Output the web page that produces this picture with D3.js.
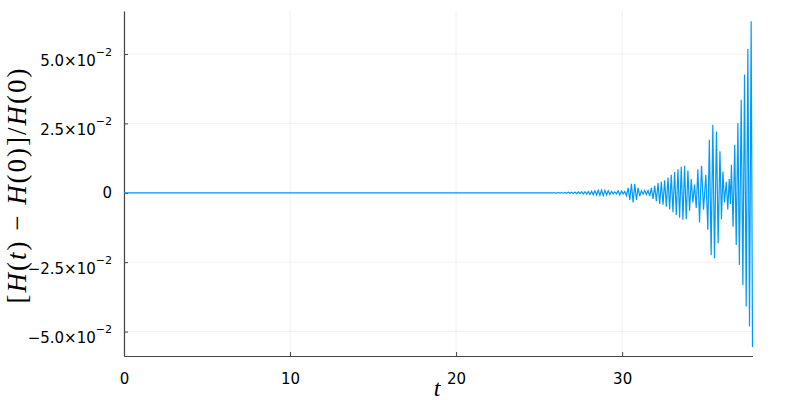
<!DOCTYPE html>
<html lang="en">
<head>
    <meta charset="utf-8" />
    <title>Energy error</title>
    <script src="https://cdn.jsdelivr.net/npm/d3@7"></script>
    <style>
      body { margin: 0; background: #fff; }
      text { font-family: "DejaVu Sans", sans-serif; fill: #000; }
    </style>
</head>
<body>
<div id="chart"></div>
<script type="text/javascript">

// time samples (turning points of the trace)
var times = [0, 25.96,
  26.06, 26.16, 26.26, 26.36, 26.46, 26.56, 26.66, 26.76, 26.86, 26.96,
  27.06, 27.16, 27.26, 27.36, 27.46, 27.56, 27.66, 27.76, 27.86, 27.96,
  28.06, 28.16, 28.26, 28.36, 28.46, 28.56, 28.66, 28.76, 28.86, 28.96,
  29.06, 29.16, 29.26, 29.36, 29.46, 29.56, 29.66, 29.76, 29.86, 29.96,
  30.06, 30.16, 30.26, 30.36, 30.46, 30.56, 30.66, 30.76, 30.86, 30.96,
  31.06, 31.16, 31.26, 31.36, 31.46, 31.56, 31.66, 31.76, 31.86, 31.96,
  32.06, 32.16, 32.26, 32.36, 32.46, 32.56, 32.66, 32.76, 32.86, 32.96,
  33.06, 33.16, 33.26, 33.36, 33.46, 33.56, 33.66, 33.76, 33.86, 33.96,
  34.06, 34.16, 34.26, 34.36, 34.46, 34.56,
  34.66, 34.78, 34.90, 35.04, 35.16, 35.25, 35.36, 35.46, 35.56, 35.68,
  35.78, 35.89, 35.98, 36.07, 36.16, 36.27, 36.36, 36.45, 36.52, 36.58,
  36.68, 36.78, 36.87, 36.97, 37.06, 37.17, 37.27, 37.37, 37.47, 37.57,
  37.67, 37.77, 37.85];

// relative energy error [H(t) - H(0)] / H(0)
var energyError = [0, 0,
  -0.0001, 0.0001, -0.0001, 0.0001, -0.00015, 0.00015, -0.00015, 0.0002, -0.0002, 0.0002,
  -0.00025, 0.00025, -0.0003, 0.0003, -0.0003, 0.0004, -0.0004, 0.0004, -0.0005, 0.0005,
  -0.0006, 0.0006, -0.0007, 0.0007, -0.0008, 0.0009, -0.0009, 0.001, -0.001, 0.0009,
  -0.0008, 0.0007, -0.0006, 0.0005, -0.0004, 0.0003, -0.0004, 0.0007, -0.0008, 0.0006,
  -0.0004, 0.0005, -0.001, 0.0018, -0.0026, 0.0032, -0.0035, 0.0032, -0.0026, 0.0018,
  -0.0012, 0.0007, -0.0005, 0.0008, -0.0006, 0.0008, -0.0012, 0.0018, -0.0022, 0.0025,
  -0.003, 0.0035, -0.004, 0.004, -0.0043, 0.0045, -0.005, 0.0055, -0.006, 0.0065,
  -0.007, 0.0075, -0.008, 0.0085, -0.009, 0.0095, -0.0097, 0.0097, -0.0095, 0.008,
  -0.0065, 0.005, -0.0035, 0.003, -0.0055, 0.0085,
  -0.0107, 0.0097, -0.0061, 0.0065, -0.0133, 0.0191, -0.0224, 0.0245, -0.0236, 0.0221,
  -0.0182, 0.015, -0.0095, 0.0077, -0.0035, 0.004, -0.006, 0.005, -0.004, 0.0101,
  -0.0122, 0.0173, -0.0188, 0.0251, -0.026, 0.0335, -0.0332, 0.0426, -0.041, 0.0518,
  -0.0482, 0.0618, -0.0556];

var xTicks = [0, 10, 20, 30];
var yTicks = [0.05, 0.025, 0, -0.025, -0.05];
var yTickMantissa = ["5.0", "2.5", "0", "\u22122.5", "\u22125.0"];
var yTickExponent = "\u22122";

var width = 800, height = 400;
var margin = { top: 11, right: 47.5, bottom: 44, left: 124 };

var svg = d3.select("#chart").append("svg")
    .attr("width", width)
    .attr("height", height);

var x = d3.scaleLinear()
    .domain([0, 37.85])
    .range([margin.left, width - margin.right]);

var y = d3.scaleLinear()
    .domain([-0.0588, 0.0655])
    .range([height - margin.bottom, margin.top]);

// grid
svg.append("g").selectAll("line")
    .data(xTicks)
    .enter().append("line")
    .attr("x1", d => x(d)).attr("x2", d => x(d))
    .attr("y1", margin.top).attr("y2", height - margin.bottom)
    .attr("stroke", "#000").attr("stroke-opacity", 0.06).attr("stroke-width", 1);

svg.append("g").selectAll("line")
    .data(yTicks)
    .enter().append("line")
    .attr("x1", margin.left).attr("x2", width - margin.right)
    .attr("y1", d => y(d)).attr("y2", d => y(d))
    .attr("stroke", "#000").attr("stroke-opacity", 0.06).attr("stroke-width", 1);

// x axis
var xAxis = svg.append("g")
    .attr("transform", "translate(0," + (height - margin.bottom) + ")")
    .call(d3.axisBottom(x).tickValues(xTicks).tickSize(-4).tickPadding(10).tickSizeOuter(0));

xAxis.select(".domain").attr("stroke", "#444").attr("stroke-width", 1.2);
xAxis.selectAll(".tick line").attr("stroke", "#444");
xAxis.selectAll(".tick text")
    .attr("font-family", "DejaVu Sans").attr("font-size", 15).attr("fill", "#000")
    .attr("dy", "1.2em");

// y axis
var yAxis = svg.append("g")
    .attr("transform", "translate(" + margin.left + ",0)")
    .call(d3.axisLeft(y).tickValues(yTicks).tickSize(-4).tickSizeOuter(0).tickFormat(""));

yAxis.select(".domain").attr("stroke", "#444").attr("stroke-width", 1.2);
yAxis.selectAll(".tick line").attr("stroke", "#444");

var yLabels = svg.append("g").selectAll("text")
    .data(yTicks)
    .enter().append("text")
    .attr("x", 112)
    .attr("y", (d, i) => yTickMantissa[i] === "0" ? y(d) + 5.5 : y(d) + 11.5)
    .attr("text-anchor", "end")
    .attr("font-size", 15);

yLabels.each(function (d, i) {
    var t = d3.select(this);
    if (yTickMantissa[i] === "0") {
        t.text("0");
    } else {
        t.append("tspan").text(yTickMantissa[i] + "\u00d710");
        t.append("tspan").attr("dy", -10).attr("font-size", 11).text(yTickExponent);
    }
});

// axis titles
svg.append("text")
    .attr("x", x(18.85))
    .attr("y", 396)
    .attr("text-anchor", "middle")
    .style("font-family", "'Liberation Serif', serif")
    .style("font-style", "italic")
    .attr("font-size", 24)
    .text("t");

var yTitle = svg.append("text")
    .attr("transform", "translate(26,185) rotate(-90)")
    .attr("text-anchor", "middle")
    .attr("letter-spacing", 2)
    .style("font-family", "'Liberation Serif', serif")
    .attr("font-size", 27);

yTitle.append("tspan").text("[");
yTitle.append("tspan").style("font-style", "italic").text("H");
yTitle.append("tspan").text("(");
yTitle.append("tspan").style("font-style", "italic").text("t");
yTitle.append("tspan").text(") \u2212 ");
yTitle.append("tspan").style("font-style", "italic").text("H");
yTitle.append("tspan").text("(0)]/");
yTitle.append("tspan").style("font-style", "italic").text("H");
yTitle.append("tspan").text("(0)");

// series
var line = d3.line()
    .x((d, i) => x(times[i]))
    .y(d => y(d));

svg.append("path")
    .datum(energyError)
    .attr("fill", "none")
    .attr("stroke", "#009af9")
    .attr("stroke-width", 1.2)
    .attr("stroke-linejoin", "miter")
    .attr("d", line);

</script>
</body>
</html>
